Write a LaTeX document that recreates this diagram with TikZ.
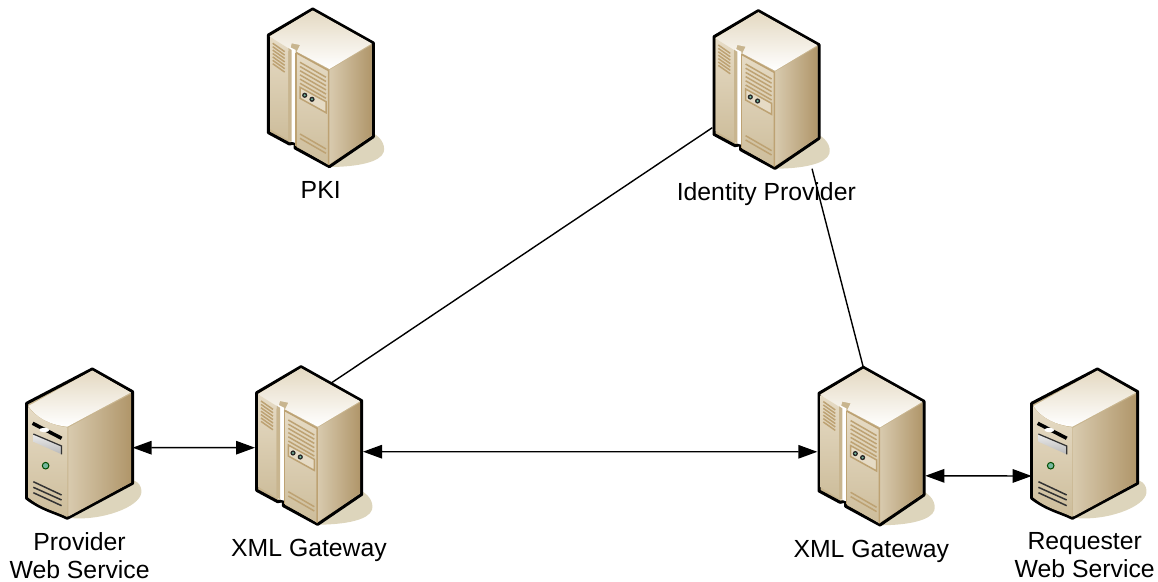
\documentclass[tikz,border=0pt]{standalone}
\usepackage{fontspec}
\setmainfont{Liberation Sans}
\usepackage{xcolor}
\usetikzlibrary{positioning,arrows.meta}
\definecolor{ink}{HTML}{000000}
\definecolor{shadowtan}{HTML}{DDD5BC}
\definecolor{bodytan}{HTML}{C8B58F}
\definecolor{rooftan}{HTML}{E4D9C2}
\definecolor{sideedge}{HTML}{D8CAAE}
\definecolor{sidelight}{HTML}{EEE6D9}
\definecolor{sidedark}{HTML}{B0966A}
\definecolor{doorlight}{HTML}{F0E9DB}
\definecolor{doortop}{HTML}{E6DBC5}
\definecolor{doordark}{HTML}{CDBD9B}
\definecolor{slattan}{HTML}{BDA273}
\definecolor{ledgreen}{HTML}{74B79E}
\tikzset{
  rackbox/.style={minimum width=2.16cm, minimum height=3.16cm, inner sep=0pt, outer sep=0pt},
  towerbox/.style={minimum width=2.12cm, minimum height=2.98cm, inner sep=0pt, outer sep=0pt},
  lab/.style={font=\fontsize{14.1}{15.9}\selectfont, inner sep=0pt, text height=0.36cm},
  labtwo/.style={font=\fontsize{14.1}{15.9}\selectfont, inner sep=0pt, align=center},
  link/.style={draw=ink, line width=0.028cm},
  dup/.style={link, {Triangle[length=0.38cm,width=0.27cm]}-{Triangle[length=0.38cm,width=0.27cm]}},
  outline/.style={draw=ink, line width=0.06cm, line join=round},
  slat/.style={draw=slattan, line width=0.03cm},
  darkslat/.style={draw=ink!80, line width=0.03cm},
  pics/rackicon/.style={code={
    \begin{scope}[x=0.2mm,y=-0.2mm,shift={(-8,-79)}]
      \fill[shadowtan] (55,122) .. controls (68,126) and (73,136) .. (71,143) .. controls (68,153) and (45,158) .. (16,158) -- cycle;
      \fill[bodytan, outline] (0,0) -- (60.7,34) -- (60.7,127.7) -- (16.7,157.7) -- (-17.7,139) -- (-17.7,134) -- (-23.3,135) -- (-44.3,123.7) -- (-44.3,26) -- cycle;
      \shade[top color=rooftan, bottom color=white] (0,1.5) -- (59,34.5) -- (16.7,60) -- (-16,42.7) -- (-12.7,36) -- (-21,34.3) -- (-23.3,42.7) -- (-43,27.5) -- cycle;
      \shade[left color=sideedge, middle color=sidelight, right color=sidedark] (16.7,61) -- (59,36) -- (59,126.5) -- (16.7,155) -- cycle;
      \shade[top color=doortop, middle color=doorlight, bottom color=doordark] (-42.7,28) -- (-24.3,39.3) -- (-24.3,131) -- (-42.7,120) -- cycle;
      \fill[white] (-23,38) -- (-17,41) -- (-17,134) -- (-23,132) -- cycle;
      \fill[bodytan] (-24.3,39) -- (-21,41) -- (-21,132.5) -- (-24.3,131) -- cycle;
      \shade[top color=doortop, middle color=doorlight, bottom color=doordark] (-16.7,43.7) -- (16,61.7) -- (16,156) -- (-16.7,137) -- cycle;
      \draw[slat] (-16.7,43.7) -- (16,61.7) -- (16,156);
      \draw[slat] (-16.7,43.7) -- (-16.7,137);
      \draw[slat] (-40,34.3) -- (-28,42.7) (-40,37.7) -- (-28,46.1) (-40,41.1) -- (-28,49.5) (-40,44.5) -- (-28,52.9) (-40,47.9) -- (-28,56.3) (-40,51.3) -- (-28,59.7) (-40,54.7) -- (-28,63.1);
      \draw[slat] (-12.7,53.3) -- (13.3,68.3) (-12.7,57.5) -- (13.3,72.5) (-12.7,61.7) -- (13.3,76.7) (-12.7,65.9) -- (13.3,80.9) (-12.7,70.1) -- (13.3,85.1) (-12.7,74.3) -- (13.3,89.3);
      \fill[doortop, slat] (-12.7,78.3) -- (13.3,92.7) -- (13.3,103.7) -- (-12.7,89.3) -- cycle;
      \fill[ink!85] (-8,86.3) circle (2.6) (-0.7,90.3) circle (2.6);
      \fill[ledgreen] (-8,86.3) circle (1.2) (-0.7,90.3) circle (1.2);
      \draw[slat] (-12.7,125) -- (13.3,140) (-12.7,129.3) -- (13.3,144.3);
    \end{scope}
  }},
  pics/towericon/.style={code={
    \begin{scope}[x=0.2mm,y=-0.2mm,shift={(12.7,-74.5)}]
      \fill[shadowtan] (30,112) .. controls (44,108) and (50,116) .. (49,124) .. controls (47,138) and (10,152) .. (-22,149) -- cycle;
      \fill[bodytan, outline] (0,0) -- (40.3,22.7) -- (40.3,114.3) -- (-25,149.3) .. controls (-38,143) and (-50,141) .. (-65.7,129.3) -- (-65.7,34.3) -- cycle;
      \shade[top color=rooftan, bottom color=white] (0,1.5) -- (38.5,23.5) -- (-25,57.7) .. controls (-42,56) and (-56,49) .. (-64,37) -- cycle;
      \shade[left color=sideedge, middle color=sidelight, right color=sidedark] (-24,58.5) -- (38.7,25) -- (38.7,113.5) -- (-24,147.5) -- cycle;
      \shade[top color=doortop, middle color=doorlight, bottom color=doordark] (-64,38) .. controls (-56,49) and (-42,56) .. (-25,58.5) -- (-25,148) .. controls (-38,141.5) and (-50,140) .. (-64,128.5) -- cycle;
      \draw[ink, line width=0.07cm] (-59.7,54.3) -- (-30.7,69.3);
      \fill[white] (-48,61) ellipse (5 and 2.2);
      \shade[top color=gray!15, bottom color=gray!55] (-59,65) -- (-30.7,77) -- (-30.7,85.3) -- (-59,72.7) -- cycle;
      \draw[ink!80, line width=0.025cm] (-59,65) -- (-30.7,77) -- (-30.7,85.3);
      \fill[ledgreen, draw=ink!70!green, line width=0.02cm] (-46.7,96.7) circle (3.3);
      \draw[darkslat] (-59,112.7) -- (-30.7,126) (-59,118.3) -- (-30.7,131) (-59,123.7) -- (-30.7,136.7);
    \end{scope}
  }},
}
\begin{document}
\begin{tikzpicture}
  \useasboundingbox (0,0) rectangle (23.16,11.64);
  % servers
  \node[rackbox] (pki) at (6.414,9.88) {};
  \node[rackbox] (idp) at (15.326,9.846) {};
  \node[rackbox] (gwl) at (6.18,2.726) {};
  \node[rackbox] (gwr) at (17.426,2.714) {};
  \node[towerbox] (prov) at (1.592,2.77) {};
  \node[towerbox] (req) at (21.694,2.77) {};
  % labels
  \node[lab, below=0.27cm of pki] (pkilab) {PKI};
  \node[lab, below=0.27cm of idp] (idplab) {Identity Provider};
  \node[lab, below=0.27cm of gwl] (gwllab) {XML Gateway};
  \node[lab, below=0.27cm of gwr] (gwrlab) {XML Gateway};
  \node[labtwo, below=0.28cm of prov] (provlab) {Provider\\Web Service};
  \node[labtwo, below=0.28cm of req] (reqlab) {Requester\\Web Service};
  % connectors
  \draw[link] ([yshift=-0.76cm]idp.west) -- ([shift={(0.454,-0.32)}]gwl.north);
  \draw[link] ([xshift=0.914cm]idp.south) -- ([xshift=-0.16cm]gwr.north);
  \draw[dup] ([yshift=-0.084cm]prov.east) -- ([yshift=-0.04cm]gwl.west);
  \draw[dup] ([yshift=-0.12cm]gwl.east) -- ([yshift=-0.11cm]gwr.west);
  \draw[dup] ([yshift=-0.59cm]gwr.east) -- ([yshift=-0.65cm]req.west);
  % icons
  \pic at (pki) {rackicon};
  \pic at (idp) {rackicon};
  \pic at (gwl) {rackicon};
  \pic at (gwr) {rackicon};
  \pic at (prov) {towericon};
  \pic at (req) {towericon};
\end{tikzpicture}
\end{document}
